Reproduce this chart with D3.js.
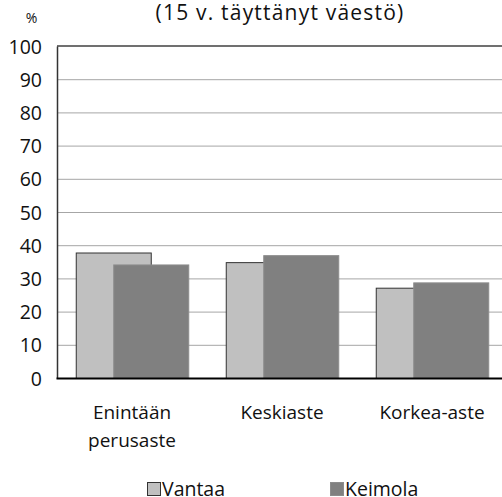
<!DOCTYPE html>
<html>
<head>
<meta charset="utf-8">
<script src="https://cdn.jsdelivr.net/npm/d3@7"></script>
<style>
  html, body { margin: 0; padding: 0; background: #fff; }
  svg { display: block; font-family: "Open Sans", sans-serif; }
</style>
</head>
<body>
<svg id="chart" width="502" height="497"></svg>
<script>
const categories = [["Enintään", "perusaste"], ["Keskiaste"], ["Korkea-aste"]];
const categoryKeys = ["Enintään perusaste", "Keskiaste", "Korkea-aste"];
const series = ["Vantaa", "Keimola"];
const vantaa = [37.8, 34.9, 27.2];
const keimola = [34.2, 37.0, 28.8];
const yTicks = [0, 10, 20, 30, 40, 50, 60, 70, 80, 90, 100];
const title = "(15 v. täyttänyt väestö)";
const yUnit = "%";

(function () {
const colors = { Vantaa: "#c0c0c0", Keimola: "#808080" };
const strokes = { Vantaa: "#333333", Keimola: "#8c8c8c" };
const values = { Vantaa: vantaa, Keimola: keimola };

const svg = d3.select("#chart");
const mLeft = 57, mRight = 507, mTop = 46, mBottom = 378;

const x0 = d3.scaleBand().domain(categoryKeys).range([mLeft, mRight])
  .paddingInner(0.25).paddingOuter(0.125);
const x1 = d3.scalePoint().domain(series).range([0, x0.bandwidth() / 3]);
const barW = x0.bandwidth() * 2 / 3;
const y = d3.scaleLinear().domain([0, 100]).range([mBottom, mTop]);

// gridlines
svg.append("g").selectAll("line").data(yTicks.filter(t => t > 0 && t < 100)).join("line")
  .attr("x1", mLeft).attr("x2", 502)
  .attr("y1", d => y(d) + 0.5).attr("y2", d => y(d) + 0.5)
  .attr("stroke", "#a6a6a6").attr("stroke-width", 1);

// top border
svg.append("line").attr("x1", mLeft).attr("x2", 502)
  .attr("y1", y(100)).attr("y2", y(100))
  .attr("stroke", "#404040").attr("stroke-width", 1.6);

// bars
series.forEach(s => {
  svg.append("g").selectAll("rect").data(categoryKeys).join("rect")
    .attr("x", (c) => x0(c) + x1(s) + 0.5)
    .attr("y", (c, i) => y(values[s][i]) + 0.5)
    .attr("width", barW)
    .attr("height", (c, i) => y(0) - y(values[s][i]))
    .attr("fill", colors[s])
    .attr("stroke", strokes[s]).attr("stroke-width", 1);
});

// y axis
const yAxis = d3.axisLeft(y).tickValues(yTicks).tickSize(0).tickPadding(15);
const yg = svg.append("g").attr("transform", `translate(${mLeft},0)`).call(yAxis);
yg.select(".domain").attr("stroke", "#333").attr("stroke-width", 1.5);
yg.selectAll("text").attr("font-size", 19.5).attr("fill", "#111")
  .attr("font-family", "Open Sans, sans-serif").attr("dy", "0.36em");

// x axis baseline
svg.append("line").attr("x1", mLeft - 0.5).attr("x2", 502)
  .attr("y1", y(0) + 0.5).attr("y2", y(0) + 0.5)
  .attr("stroke", "#000").attr("stroke-width", 2);

// category labels
const cl = svg.append("g").selectAll("text").data(categoryKeys).join("text")
  .attr("x", c => x0(c) + x0.bandwidth() / 2)
  .attr("y", 419)
  .attr("text-anchor", "middle")
  .attr("font-size", 19)
  .attr("fill", "#111");
cl.each(function (c, i) {
  const t = d3.select(this);
  categories[i].forEach((line, j) => {
    t.append("tspan").attr("x", x0(c) + x0.bandwidth() / 2)
      .attr("dy", j === 0 ? 0 : 28).text(line);
  });
});

// title
svg.append("text").attr("x", 280).attr("y", 20).attr("text-anchor", "middle")
  .attr("font-size", 21).attr("letter-spacing", 1.2).attr("fill", "#111").text(title);

// unit
svg.append("text").attr("x", 31.5).attr("y", 23).attr("text-anchor", "middle")
  .attr("font-size", 14).attr("fill", "#111").text(yUnit);

// legend
const legendX = { Vantaa: 147, Keimola: 330 };
const lg = svg.append("g").selectAll("g").data(series).join("g")
  .attr("transform", s => `translate(${legendX[s]},0)`);
lg.append("rect").attr("x", 0.5).attr("y", 482.5).attr("width", 13).attr("height", 13)
  .attr("fill", s => colors[s]).attr("stroke", s => strokes[s]).attr("stroke-width", 1);
lg.append("text").attr("x", 15).attr("y", 495.5).attr("font-size", 19.5).attr("fill", "#111")
  .text(s => s);
})();
</script>
</body>
</html>
